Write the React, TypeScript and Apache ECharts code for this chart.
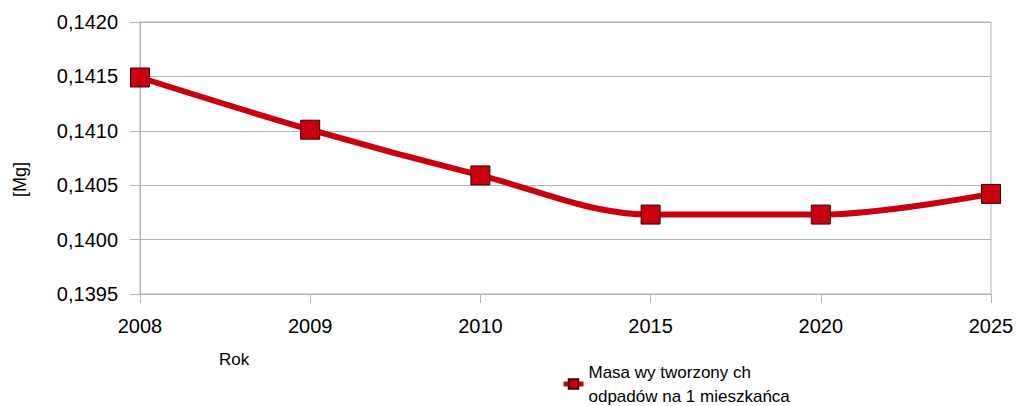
import React, { useEffect, useRef } from "react";
import * as echarts from "echarts";

const years = ["2008", "2009", "2010", "2015", "2020", "2025"];
const masa = [0.14149, 0.14101, 0.14059, 0.14023, 0.14023, 0.14042];
const seriesName = "Masa wy tworzony ch\nodpadów na 1 mieszkańca";

export default function App() {
  const ref = useRef<HTMLDivElement>(null);
  useEffect(() => {
    document.body.style.margin = "0";
    const chart = echarts.init(ref.current!, null, { renderer: "svg" });
    const font = "'Liberation Sans', Arial, sans-serif";
    chart.setOption({
      animation: false,
      backgroundColor: "#ffffff",
      textStyle: { fontFamily: font },
      grid: {
        left: 140,
        right: 26,
        top: 22,
        bottom: 112,
        show: true,
        borderColor: "#b3b3b3",
        borderWidth: 1,
      },
      xAxis: {
        type: "category",
        data: years,
        boundaryGap: false,
        axisLine: { lineStyle: { color: "#b3b3b3", width: 1 } },
        axisTick: { show: true, length: 9, lineStyle: { color: "#b3b3b3" } },
        axisLabel: { color: "#000", fontSize: 20, margin: 22, fontFamily: font },
        splitLine: { show: false },
      },
      yAxis: {
        type: "value",
        min: 0.1395,
        max: 0.142,
        interval: 0.0005,
        axisLine: { show: true, lineStyle: { color: "#b3b3b3", width: 1 } },
        axisTick: { show: true, length: 10, lineStyle: { color: "#b3b3b3" } },
        axisLabel: {
          color: "#000",
          fontSize: 20,
          margin: 22,
          fontFamily: font,
          formatter: (v: number) => v.toFixed(4).replace(".", ","),
        },
        splitLine: { show: true, lineStyle: { color: "#b3b3b3", width: 1 } },
      },
      legend: {
        left: 561,
        top: 348,
        padding: 0,
        orient: "vertical",
        itemWidth: 20,
        itemHeight: 12,
        itemGap: 4,
        lineStyle: { width: 5 },
        textStyle: {
          color: "#000",
          fontSize: 17,
          lineHeight: 24,
          fontFamily: font,
          padding: [24, 0, 0, 0],
        },
        data: [seriesName],
      },
      graphic: [
        {
          type: "text",
          left: 11,
          top: 162,
          rotation: Math.PI / 2,
          style: { text: "[Mg]", fontSize: 18, fill: "#000", fontFamily: font },
        },
        {
          type: "text",
          x: 219,
          y: 351,
          style: { text: "Rok", fontSize: 17, fill: "#000", fontFamily: font },
        },
      ],
      series: [
        {
          name: seriesName,
          type: "line",
          data: masa,
          smooth: 0.35,
          symbol: "rect",
          symbolSize: 19,
          lineStyle: { color: "#c9000e", width: 6 },
          itemStyle: { color: "#c9000e", borderColor: "#3a0000", borderWidth: 1 },
        },
      ],
    });
    return () => chart.dispose();
  }, []);
  return <div ref={ref} style={{ width: 1017, height: 406 }} />;
}
